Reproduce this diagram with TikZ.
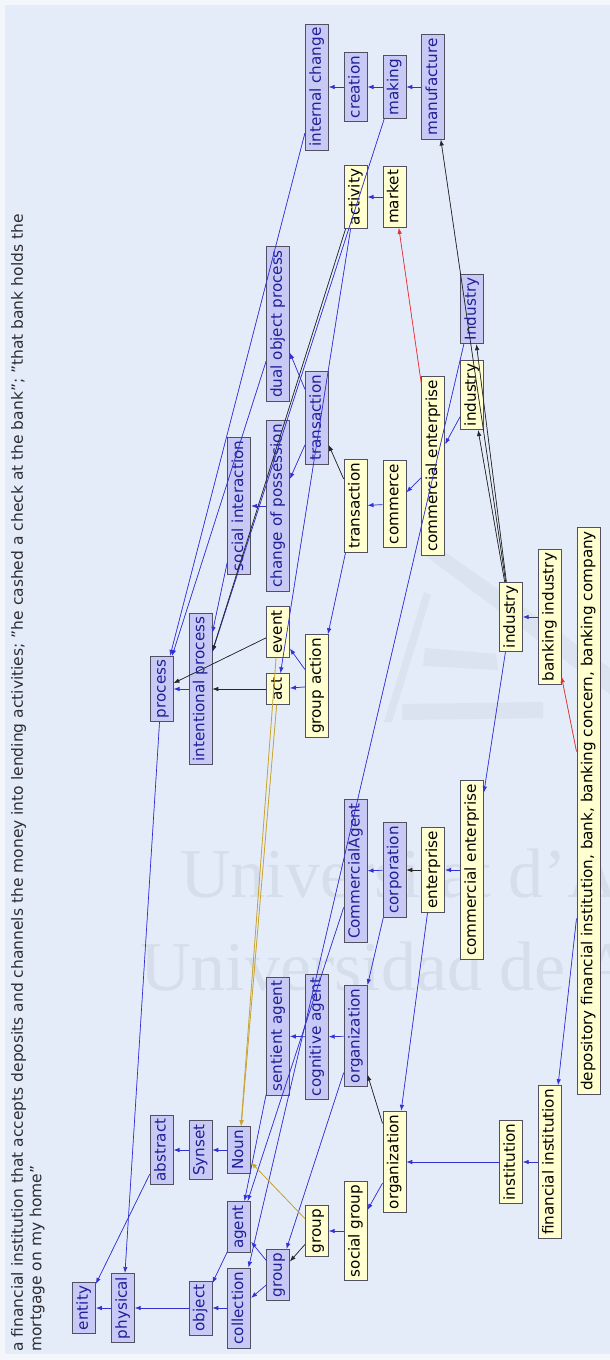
\documentclass[tikz,border=0pt]{standalone}
\usepackage{fontspec}
\setmainfont{DejaVu Sans}
\newfontfamily\wmfont{Liberation Serif}
\usetikzlibrary{arrows.meta}
\definecolor{outside}{RGB}{243,246,250}
\definecolor{panel}{RGB}{228,236,250}
\definecolor{sumofill}{RGB}{200,202,245}
\definecolor{wnfill}{RGB}{255,255,208}
\definecolor{boxline}{RGB}{80,80,96}
\definecolor{sumotext}{RGB}{30,30,150}
\definecolor{glosstext}{RGB}{45,45,50}
\definecolor{edgeblue}{RGB}{50,50,215}
\definecolor{edgered}{RGB}{230,50,50}
\definecolor{edgegold}{RGB}{200,165,50}
\definecolor{watermark}{RGB}{214,221,235}
\definecolor{logo}{RGB}{219,226,240}

\begin{document}
\begin{tikzpicture}[x=1pt, y=-1pt, >={Latex[length=6pt,width=4.5pt]},
  box/.style={rotate=90, draw=boxline, line width=0.8pt, inner xsep=3.5pt, inner ysep=0pt,
    minimum height=23pt, text height=11.5pt, text depth=3.6pt, font=\fontsize{15.2}{18}\selectfont},
  sumo/.style={box, fill=sumofill, text=sumotext},
  wn/.style={box, fill=wnfill, text=black},
  isa/.style={->, draw=edgeblue, fill=edgeblue, line width=0.7pt},
  map/.style={->, draw=black!85, fill=black!85, line width=0.7pt},
  rel/.style={->, draw=edgered, fill=edgered, line width=0.7pt},
  lex/.style={->, draw=edgegold, fill=edgegold, line width=0.8pt}]
\useasboundingbox (0,0) rectangle (610,1360);
\clip (0,0) rectangle (610,1360);
\fill[outside] (0,0) rectangle (610,1360);
\fill[panel] (5,5) rectangle (610,1354);

% watermark
\fill[logo] (418,550) -- (438,547) -- (610,668) -- (610,694) -- cycle;
\fill[logo] (424,592) -- (431,595) -- (392,722) -- (384,722) -- cycle;
\fill[logo] (425,648) -- (496,654) -- (498,670) -- (423,666) -- cycle;
\fill[logo] (402,704) -- (543,702) -- (543,718) -- (402,720) -- cycle;
\node[anchor=base west, inner sep=0pt, text=watermark, font=\wmfont\fontsize{70}{74}\selectfont] (wmone) at (180,897) {Universitat d’Alacant};
\node[anchor=base west, inner sep=0pt, text=watermark, font=\wmfont\fontsize{70}{74}\selectfont] (wmtwo) at (140,990) {Universidad de Alicante};

% gloss
\node[rotate=90, anchor=north west, inner sep=0pt, align=left, text=glosstext,
  font=\fontsize{15.5}{18.5}\selectfont] (gloss) at (11,1352)
  {a financial institution that accepts deposits and channels the money into lending activities; "he cashed a check at the bank"; "that bank holds the\\mortgage on my home"};

% upper ontology
\node[sumo] (entity) at (84,1308) {entity};
\node[sumo] (physical) at (122.8,1308) {physical};
\node[sumo] (abstract) at (161.6,1150) {abstract};
\node[sumo] (object) at (200.4,1308) {object};
\node[sumo] (synset) at (200.4,1150) {Synset};
\node[sumo] (collection) at (239.2,1308) {collection};
\node[sumo] (noun) at (239.2,1150) {Noun};
\node[sumo] (agent) at (239.2,1227) {agent};
\node[sumo] (groupS) at (278,1275) {group};
\node[sumo] (sentient) at (278,1036) {sentient agent};
\node[wn] (groupW) at (316.8,1231) {group};
\node[sumo] (cognitive) at (316.8,1037) {cognitive agent};
\node[wn] (socialgroup) at (355.6,1231) {social group};
\node[sumo] (orgS) at (355.6,1036) {organization};
\node[sumo] (commagent) at (355.6,871) {CommercialAgent};
\node[wn] (orgW) at (394.4,1162) {organization};
\node[sumo] (corporation) at (394.4,870) {corporation};
\node[wn] (enterprise) at (433.2,870) {enterprise};
\node[wn] (comentB) at (472,870) {commercial enterprise};
\node[wn] (institution) at (510.8,1162) {institution};
\node[wn] (fininst) at (549.6,1162) {financial institution};
\node[wn] (depository) at (588.4,811) {depository financial institution, bank, banking concern, banking company};

% processes
\node[sumo] (process) at (161.6,689) {process};
\node[sumo] (intproc) at (200.4,689) {intentional process};
\node[sumo] (socint) at (239.2,506) {social interaction};
\node[wn] (event) at (278,632) {event};
\node[wn] (act) at (278,689) {act};
\node[sumo] (changeposs) at (278,506) {change of possession};
\node[sumo] (dualobj) at (278,324) {dual object process};
\node[wn] (groupaction) at (316.8,686) {group action};
\node[sumo] (transS) at (316.8,418) {transaction};
\node[sumo] (intchange) at (316.8,87) {internal change};
\node[wn] (transW) at (355.6,506) {transaction};
\node[wn] (activity) at (355.6,197) {activity};
\node[sumo] (creation) at (355.6,87) {creation};
\node[wn] (commerce) at (394.4,504) {commerce};
\node[wn] (market) at (394.4,197) {market};
\node[sumo] (making) at (394.4,87) {making};
\node[wn] (comentT) at (433.2,466) {commercial enterprise};
\node[sumo] (manufacture) at (433.2,87) {manufacture};
\node[wn] (industryW) at (472,395) {industry};
\node[sumo] (industryS) at (472,309) {Industry};
\node[wn] (industryL) at (510.8,617) {industry};
\node[wn] (banking) at (549.6,617) {banking industry};

% subclass links
\draw[isa] (physical) -- (entity);
\draw[isa] (abstract) -- (entity);
\draw[isa] (object) -- (physical);
\draw[isa] (process) -- (physical);
\draw[isa] (collection) -- (object);
\draw[isa] (agent) -- (object);
\draw[isa] (synset) -- (abstract);
\draw[isa] (noun) -- (synset);
\draw[isa] (groupS) -- (collection);
\draw[isa] (groupS) -- (agent);
\draw[isa] (sentient) -- (agent);
\draw[isa] (commagent) -- (agent);
\draw[isa] (industryS) -- (collection);
\draw[isa] (orgS) -- (groupS);
\draw[isa] (orgS) -- (cognitive);
\draw[isa] (cognitive) -- (sentient);
\draw[isa] (corporation) -- (orgS);
\draw[isa] (corporation) -- (commagent);
\draw[isa] (socialgroup) -- (groupW);
\draw[isa] (orgW) -- (socialgroup);
\draw[isa] (institution) -- (orgW);
\draw[isa] (fininst) -- (institution);
\draw[isa] (depository) -- (fininst);
\draw[isa] (enterprise) -- (orgW);
\draw[isa] (comentB) -- (enterprise);
\draw[isa] (industryL) -- (comentB);
\draw[isa] (banking) -- (industryL);
\draw[isa] (intproc) -- (process);
\draw[isa] (intchange) -- (process);
\draw[isa] (dualobj) -- (process);
\draw[isa] (socint) -- (intproc);
\draw[isa] (making) -- (intproc);
\draw[isa] (changeposs) -- (socint);
\draw[isa] (transS) -- (changeposs);
\draw[isa] (transS) -- (dualobj);
\draw[isa] (creation) -- (intchange);
\draw[isa] (making) -- (creation);
\draw[isa] (manufacture) -- (making);
\draw[isa] (groupaction) -- (event);
\draw[isa] (groupaction) -- (act);
\draw[isa] (transW) -- (groupaction);
\draw[isa] (activity) -- (act);
\draw[isa] (market) -- (activity);
\draw[isa] (commerce) -- (transW);
\draw[isa] (comentT) -- (commerce);
\draw[isa] (industryW) -- (comentT);

% mappings
\draw[map] (groupW) -- (groupS);
\draw[map] (orgW) -- (orgS);
\draw[map] (enterprise) -- (corporation);
\draw[map] (transW) -- (transS);
\draw[map] (act) -- (intproc);
\draw[map] (event) -- (process);
\draw[map] (activity) -- (intproc);
\draw[map] (industryL) -- (industryS);
\draw[map] (industryL) -- (industryW);
\draw[map] (industryL) -- (manufacture);

% other relations
\draw[rel] (comentT) -- (market);
\draw[rel] (depository) -- (banking);
\draw[lex] (act) -- (noun);
\draw[lex] (event) -- (noun);
\draw[lex] (groupW) -- (noun);
\end{tikzpicture}
\end{document}
